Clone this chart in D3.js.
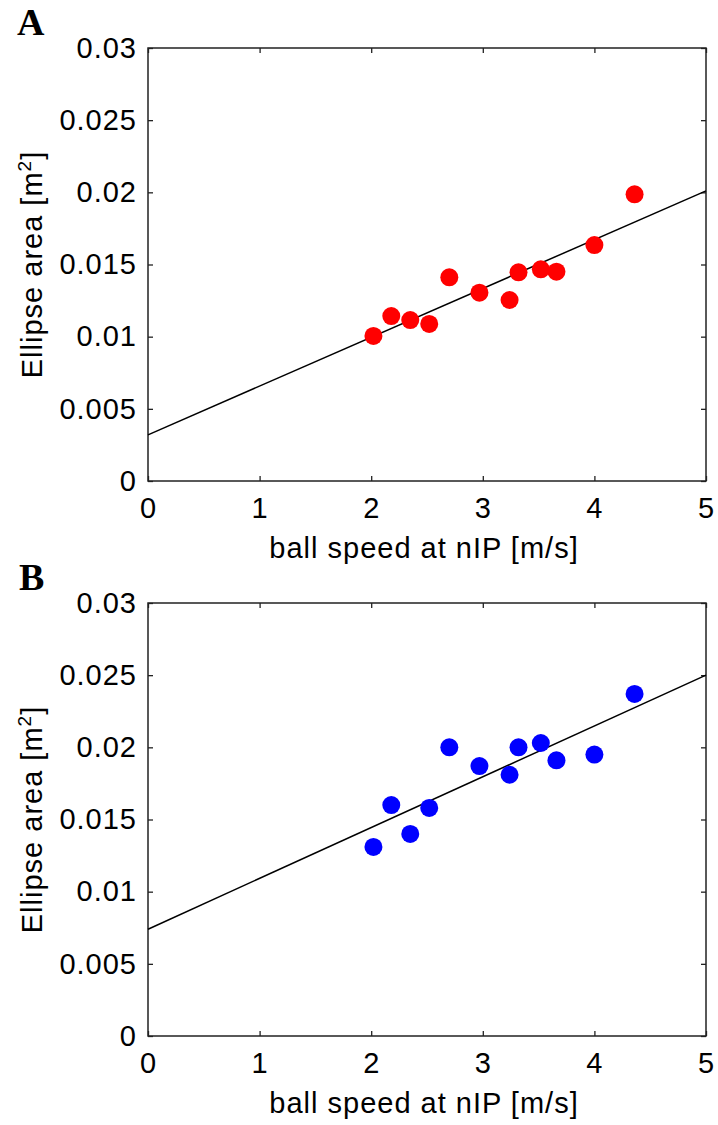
<!DOCTYPE html>
<html>
<head>
<meta charset="utf-8">
<script src="https://cdn.jsdelivr.net/npm/d3@7"></script>
<style>
  body { margin: 0; background: #fff; }
  text { font-family: "Liberation Sans", Arial, sans-serif; }
</style>
</head>
<body>
<div id="chart"></div>
<script>
// data
var speed = [2.02, 2.18, 2.35, 2.52, 2.70, 2.97, 3.24, 3.32, 3.52, 3.66, 4.00, 4.36];
var areaA = [0.01005, 0.01143, 0.01115, 0.01088, 0.01411, 0.01305, 0.01254, 0.01446, 0.01467, 0.0145, 0.01635, 0.01986];
var areaB = [0.0131, 0.0160, 0.0140, 0.0158, 0.0200, 0.0187, 0.0181, 0.0200, 0.0203, 0.0191, 0.0195, 0.0237];
// regression line end points at x = 0 and x = 5
var fitX = [0, 5];
var fitA = [0.0032, 0.0201];
var fitB = [0.0074, 0.0250];
var xTicks = [0, 1, 2, 3, 4, 5];
var yTicks = [0, 0.005, 0.01, 0.015, 0.02, 0.025, 0.03];
var yTickLabels = ["0", "0.005", "0.01", "0.015", "0.02", "0.025", "0.03"];

var svgWidth = 718;
var svgHeight = 1125;

var svg = d3.select("#chart")
  .append("svg")
  .attr("width", svgWidth)
  .attr("height", svgHeight);

var width = 558;
var height = 433;

function drawPanel(letter, top, values, fit, color) {
  var g = svg.append("g")
    .attr("transform", `translate(148, ${top})`);

  var x = d3.scaleLinear().domain([0, 5]).range([0, width]);
  var y = d3.scaleLinear().domain([0, 0.03]).range([height, 0]);

  // axes, ticks pointing inward
  var fs = "29px";
  var left = g.append("g")
    .call(d3.axisLeft(y).tickValues(yTicks).tickSize(-5).tickPadding(11)
      .tickFormat((d, i) => yTickLabels[i]));
  var bottom = g.append("g")
    .attr("transform", `translate(0, ${height})`)
    .call(d3.axisBottom(x).tickValues(xTicks).tickSize(-5).tickPadding(16.5)
      .tickFormat(d3.format("d")));
  var right = g.append("g")
    .attr("transform", `translate(${width}, 0)`)
    .call(d3.axisRight(y).tickValues(yTicks).tickSize(-5).tickFormat(""));
  var topAx = g.append("g")
    .call(d3.axisTop(x).tickValues(xTicks).tickSize(-5).tickFormat(""));

  [left, bottom, right, topAx].forEach(function(a) {
    a.select(".domain").remove();
    a.selectAll("line").attr("stroke", "#222").attr("stroke-width", 1.3);
    a.selectAll("text")
      .attr("font-size", fs)
      .attr("letter-spacing", "1px")
      .attr("fill", "#000")
      .style("font-family", '"Liberation Sans", Arial, sans-serif');
  });

  g.append("rect")
    .attr("x", 0).attr("y", 0)
    .attr("width", width).attr("height", height)
    .attr("fill", "none")
    .attr("stroke", "#222")
    .attr("stroke-width", 1.5);

  // fit line
  g.append("line")
    .attr("x1", x(fitX[0])).attr("y1", y(fit[0]))
    .attr("x2", x(fitX[1])).attr("y2", y(fit[1]))
    .attr("stroke", "#000")
    .attr("stroke-width", 1.5);

  // points
  g.selectAll("circle")
    .data(speed)
    .enter()
    .append("circle")
    .attr("cx", d => x(d))
    .attr("cy", (d, i) => y(values[i]))
    .attr("r", 9)
    .attr("fill", color);

  // axis labels
  g.append("text")
    .attr("x", width / 2 - 3)
    .attr("y", height + 77)
    .attr("text-anchor", "middle")
    .attr("font-size", fs)
    .attr("letter-spacing", "1px")
    .text("ball speed at nIP [m/s]");

  var yl = g.append("text")
    .attr("transform", `translate(-106, ${height / 2}) rotate(-90)`)
    .attr("text-anchor", "middle")
    .attr("font-size", fs)
    .attr("letter-spacing", "1px");
  yl.append("tspan").text("Ellipse area [m");
  yl.append("tspan").attr("dy", -11).attr("font-size", "19px").text("2");
  yl.append("tspan").attr("dy", 11).text("]");

  svg.append("text")
    .attr("x", letter == "A" ? 17 : 19)
    .attr("y", top - 13)
    .attr("font-size", "38px")
    .attr("font-weight", "bold")
    .style("font-family", '"Liberation Serif", "Times New Roman", serif')
    .text(letter);
}

drawPanel("A", 48, areaA, fitA, "#ff0000");
drawPanel("B", 603, areaB, fitB, "#0000ff");
</script>
</body>
</html>
